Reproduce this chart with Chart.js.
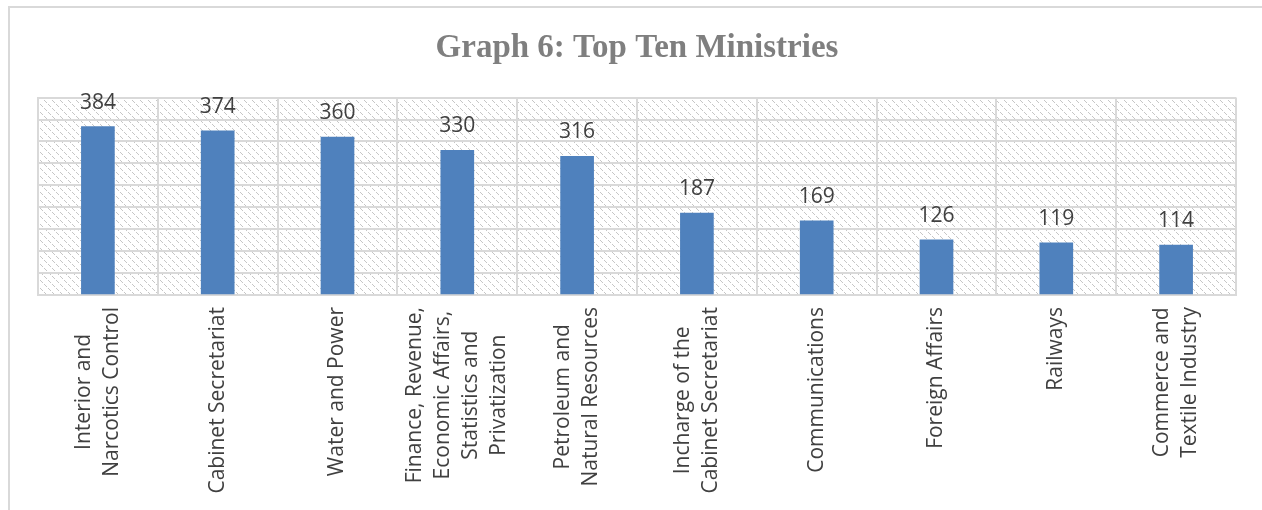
<!DOCTYPE html>
<html>
<head>
<meta charset="utf-8">
<script src="https://cdn.jsdelivr.net/npm/chart.js@4.4.0/dist/chart.umd.min.js"></script>
<style>
  html, body { margin: 0; padding: 0; background: #fff; }
  #frame {
    position: absolute; left: 8px; top: 6px; width: 1300px; height: 600px;
    border-left: 2px solid #d9d9d9; border-top: 2px solid #d9d9d9;
  }
  #wrap { position: absolute; left: 0; top: 0; width: 1262px; height: 510px; }
</style>
</head>
<body>
<div id="frame"></div>
<div id="wrap"><canvas id="chart"></canvas></div>
<script>
const ministries = [
    ["Interior and", "Narcotics Control"],
    ["Cabinet Secretariat"],
    ["Water and Power"],
    ["Finance, Revenue,", "Economic Affairs,", "Statistics and", "Privatization"],
    ["Petroleum and", "Natural Resources"],
    ["Incharge of the", "Cabinet Secretariat"],
    ["Communications"],
    ["Foreign Affairs"],
    ["Railways"],
    ["Commerce and", "Textile Industry"]
];
const counts = [384, 374, 360, 330, 316, 187, 169, 126, 119, 114];
const chartTitle = "Graph 6: Top Ten Ministries";

const labelFont = "21px 'Open Sans'";

// diagonal dashed hatch used behind the bars
function makeHatch() {
    let c = document.createElement("canvas");
    c.width = 8;
    c.height = 8;
    let g = c.getContext("2d");
    g.fillStyle = "#fff";
    g.fillRect(0, 0, 8, 8);
    g.fillStyle = "#c6c6c6";
    for (let i = 0; i < 8; i++) {
        if (i % 4 === 3) continue;
        g.fillRect(i, i, 1, 1);
    }
    return g.createPattern(c, "repeat");
}

const plotBackground = {
    id: "plotBackground",
    beforeDraw(chart) {
        const { ctx, chartArea: a } = chart;
        ctx.save();
        ctx.fillStyle = makeHatch();
        ctx.fillRect(a.left, a.top, a.right - a.left, a.bottom - a.top);
        ctx.restore();
    }
};

// value above each bar
const valueLabels = {
    id: "valueLabels",
    afterDatasetsDraw(chart) {
        const ctx = chart.ctx;
        const meta = chart.getDatasetMeta(0);
        ctx.save();
        ctx.font = labelFont;
        ctx.fillStyle = "#404040";
        ctx.textAlign = "center";
        ctx.textBaseline = "alphabetic";
        meta.data.forEach((bar, i) => {
            ctx.fillText(counts[i], bar.x, bar.y - 18);
        });
        ctx.restore();
    }
};

// rotated category names, lines centred on each other
const categoryLabels = {
    id: "categoryLabels",
    afterDraw(chart) {
        const ctx = chart.ctx;
        const x = chart.scales.x;
        const top = chart.chartArea.bottom + 12;
        const lineGap = 28;
        ctx.save();
        ctx.font = labelFont;
        ctx.fillStyle = "#404040";
        ctx.textAlign = "center";
        ctx.textBaseline = "middle";
        ministries.forEach((lines, i) => {
            const cx = x.getPixelForValue(i);
            let maxW = 0;
            lines.forEach(l => { maxW = Math.max(maxW, ctx.measureText(l).width); });
            lines.forEach((l, j) => {
                const lx = cx + (j - (lines.length - 1) / 2) * lineGap;
                ctx.save();
                ctx.translate(lx, top + maxW / 2);
                ctx.rotate(-Math.PI / 2);
                ctx.fillText(l, 0, 0);
                ctx.restore();
            });
        });
        ctx.restore();
    }
};

const ctx = document.getElementById("chart").getContext("2d");
const myChart = new Chart(ctx, {
    type: "bar",
    data: {
        labels: ministries.map(m => m.join(" ")),
        datasets: [{
            data: counts,
            backgroundColor: "#4F81BD",
            barThickness: 33
        }]
    },
    options: {
        responsive: true,
        maintainAspectRatio: false,
        animation: false,
        layout: { padding: { left: 38, right: 26, top: 0, bottom: 0 } },
        plugins: {
            legend: { display: false },
            tooltip: { enabled: false },
            title: {
                display: true,
                text: chartTitle,
                color: "#7f7f7f",
                font: { family: "'Liberation Serif'", size: 33, weight: "bold", lineHeight: 1.2 },
                padding: { top: 29, bottom: 29 }
            }
        },
        scales: {
            x: {
                ticks: { display: false },
                grid: { color: "#d9d9d9", lineWidth: 2, drawTicks: false, offset: true },
                border: { color: "#d9d9d9", width: 2 },
                afterFit(scale) { scale.height = 215; }
            },
            y: {
                min: 0,
                max: 450,
                ticks: { display: false, stepSize: 50 },
                grid: { color: "#d9d9d9", lineWidth: 2, drawTicks: false },
                border: { color: "#d9d9d9", width: 2 },
                afterFit(scale) { scale.width = 0; }
            }
        }
    },
    plugins: [plotBackground, valueLabels, categoryLabels]
});
</script>
</body>
</html>
